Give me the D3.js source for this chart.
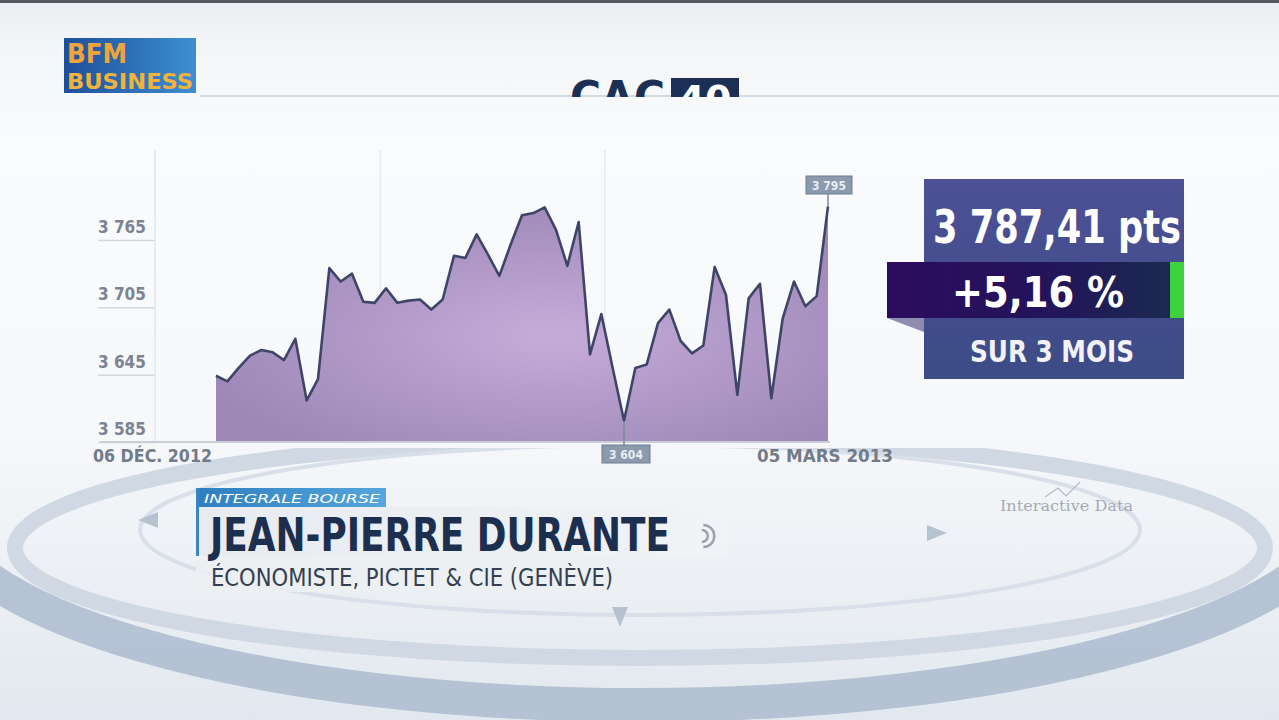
<!DOCTYPE html>
<html>
<head>
<meta charset="utf-8">
<script src="https://cdn.jsdelivr.net/npm/d3@7"></script>
<style>
html, body { margin: 0; padding: 0; overflow: hidden; background: #f4f6f9; }
svg { display: block; }
</style>
</head>
<body>
<script>
// CAC 40, one value per session from 06 Dec 2012 to 05 Mar 2013
const values = [3644, 3639, 3651, 3662, 3667, 3665, 3658, 3677, 3622, 3641,
    3740, 3728, 3735, 3710, 3709, 3722, 3709, 3711, 3712, 3703,
    3712, 3751, 3749, 3770, 3752, 3733, 3761, 3787, 3789, 3794,
    3774, 3742, 3781, 3663, 3699, 3651, 3604, 3651, 3654, 3691,
    3703, 3675, 3664, 3671, 3741, 3716, 3627, 3713, 3726, 3624,
    3695, 3728, 3706, 3715, 3795]
const yTicks = [3585, 3645, 3705, 3765]
const dateLabels = ["06 DÉC. 2012", "05 MARS 2013"]
const monthBreaks = [14.5, 34.3] // 1 Jan, 1 Feb (session index)
const lastPrice = "3 787,41 pts"
const change = "+5,16 %"
const period = "SUR 3 MOIS"
const tag = "INTEGRALE BOURSE"
const guest = "JEAN-PIERRE DURANTE"
const guestRole = "ÉCONOMISTE, PICTET & CIE (GENÈVE)"

const width = 1279
const height = 720
const narrow = "'Liberation Sans Narrow', 'DejaVu Sans Condensed', 'Roboto', sans-serif"

const fr = d3.formatLocale({ decimal: ",", thousands: " ", grouping: [3], currency: ["", " €"] })
const fmt = fr.format(",.0f")

const svg = d3.select("body").append("svg")
    .attr("width", width)
    .attr("height", height)
    .attr("viewBox", [0, 0, width, height])

const defs = svg.append("defs")

function linGrad(id, stops, x2 = 0, y2 = 1) {
    const g = defs.append("linearGradient").attr("id", id)
        .attr("x1", 0).attr("y1", 0).attr("x2", x2).attr("y2", y2)
    stops.forEach(s => g.append("stop").attr("offset", s[0]).attr("stop-color", s[1]))
}
linGrad("bg", [[0, "#e9ecf0"], [0.06, "#f3f5f7"], [0.2, "#fafbfc"], [0.6, "#f6f8fa"], [1, "#e2e8ef"]])
linGrad("bfm", [[0, "#1d4f9a"], [1, "#3d8fd3"]], 1, 0)
linGrad("panel", [[0, "#4d5096"], [1, "#3c4c86"]])
linGrad("band", [[0, "#2c0b5e"], [0.6, "#22155a"], [1, "#1b2a50"]], 1, 0)
linGrad("tagG", [[0, "#2f7fc0"], [1, "#55a6dc"]], 1, 0)
linGrad("lower", [[0, "#e7ebef"], [1, "#f1f3f6"]], 1, 0)

const areaGrad = defs.append("radialGradient").attr("id", "areaG")
    .attr("cx", "0.55").attr("cy", "0.55").attr("r", "0.6")
areaGrad.append("stop").attr("offset", 0).attr("stop-color", "#c6acd9")
areaGrad.append("stop").attr("offset", 1).attr("stop-color", "#9d88b7")

defs.append("clipPath").attr("id", "titleClip")
    .append("rect").attr("x", 0).attr("y", 0).attr("width", width).attr("height", 97)
defs.append("clipPath").attr("id", "ringClip")
    .append("rect").attr("x", 0).attr("y", 448).attr("width", width).attr("height", height - 448)

/*==========  background  ==========*/
svg.append("rect").attr("width", width).attr("height", height).attr("fill", "url(#bg)")
svg.append("rect").attr("width", width).attr("height", 3).attr("fill", "#55585e")

const rings = svg.append("g").attr("fill", "none").attr("clip-path", "url(#ringClip)")
rings.append("ellipse").attr("cx", 640).attr("cy", 500).attr("rx", 705).attr("ry", 205)
    .attr("stroke", "#a9b8cd").attr("stroke-width", 34).attr("opacity", 0.8)
rings.append("ellipse").attr("cx", 640).attr("cy", 548).attr("rx", 625).attr("ry", 110)
    .attr("stroke", "#d0d8e3").attr("stroke-width", 16)
rings.append("ellipse").attr("cx", 640).attr("cy", 530).attr("rx", 500).attr("ry", 85)
    .attr("stroke", "#d8dfe9").attr("stroke-width", 4)
// little arrow marks on the inner ring
svg.append("g").selectAll("path")
    .data([[150, 520, 0], [935, 533, 180], [620, 615, -90]])
    .join("path")
    .attr("d", "M-12,0 L8,-8 L8,8 Z")
    .attr("transform", d => `translate(${d[0]},${d[1]}) rotate(${d[2]})`)
    .attr("fill", "#b7c2d0")

svg.append("line").attr("x1", 200).attr("x2", width).attr("y1", 96).attr("y2", 96)
    .attr("stroke", "#d3d9e0").attr("stroke-width", 2)

/*==========  BFM logo + title  ==========*/
const logo = svg.append("g").attr("transform", "translate(64,38)")
logo.append("rect").attr("width", 132).attr("height", 55).attr("fill", "url(#bfm)")
logo.append("text").attr("x", 3).attr("y", 25).text("BFM")
    .attr("font-family", narrow).attr("font-weight", "bold").attr("font-size", 26)
    .attr("fill", "#f0a43a").attr("textLength", 60).attr("lengthAdjust", "spacingAndGlyphs")
logo.append("text").attr("x", 3).attr("y", 51).text("BUSINESS")
    .attr("font-family", narrow).attr("font-weight", "bold").attr("font-size", 22)
    .attr("fill", "#f2b23e").attr("textLength", 126).attr("lengthAdjust", "spacingAndGlyphs")

const title = svg.append("g").attr("clip-path", "url(#titleClip)")
title.append("text").attr("x", 570).attr("y", 113).text("CAC")
    .attr("font-family", "'DejaVu Sans', sans-serif").attr("font-weight", "bold").attr("font-size", 44)
    .attr("fill", "#1c2f55").attr("textLength", 95).attr("lengthAdjust", "spacingAndGlyphs")
title.append("rect").attr("x", 671).attr("y", 78).attr("width", 68).attr("height", 40).attr("fill", "#1c2f55")
title.append("text").attr("x", 705).attr("y", 112).text("40").attr("text-anchor", "middle")
    .attr("font-family", "'DejaVu Sans', sans-serif").attr("font-weight", "bold").attr("font-size", 38)
    .attr("fill", "#ffffff")

/*==========  chart  ==========*/
const x = d3.scaleLinear().domain([0, values.length - 1]).range([216, 828])
const y = d3.scaleLinear().domain([yTicks[0], yTicks[yTicks.length - 1]]).range([442, 240])

const chart = svg.append("g")

// faint vertical separators (axis + month breaks)
chart.append("line").attr("x1", 155).attr("x2", 155).attr("y1", 150).attr("y2", y(yTicks[0]))
    .attr("stroke", "#e2e6eb").attr("stroke-width", 1.5)
chart.selectAll("line.month")
    .data(monthBreaks)
    .join("line")
    .attr("x1", d => x(d)).attr("x2", d => x(d))
    .attr("y1", 150).attr("y2", y(yTicks[0]))
    .attr("stroke", "#e6e9ee").attr("stroke-width", 1.5)

// y ticks: label sitting on a short underline
const yAxis = d3.axisLeft(y).tickValues(yTicks).tickSize(57).tickFormat(fmt)
chart.append("g")
    .attr("transform", "translate(155,0)")
    .call(yAxis)
    .call(g => g.select(".domain").remove())
    .call(g => g.selectAll(".tick line").attr("stroke", "#d3d8df").attr("stroke-width", 1.5))
    .call(g => g.selectAll(".tick text")
        .attr("x", -57).attr("dy", "-0.45em")
        .attr("text-anchor", "start")
        .attr("font-family", narrow).attr("font-weight", "bold").attr("font-size", 17)
        .attr("fill", "#7c8392"))

chart.append("path")
    .datum(values)
    .attr("fill", "url(#areaG)")
    .attr("d", d3.area().x((d, i) => x(i)).y0(y(yTicks[0])).y1(d => y(d)))

chart.append("line").attr("x1", 100).attr("x2", 830)
    .attr("y1", y(yTicks[0])).attr("y2", y(yTicks[0]))
    .attr("stroke", "#c9ced6").attr("stroke-width", 2)

chart.append("path")
    .datum(values)
    .attr("fill", "none")
    .attr("stroke", "#3e4568")
    .attr("stroke-width", 2.6)
    .attr("stroke-linejoin", "round")
    .attr("d", d3.line().x((d, i) => x(i)).y(d => y(d)))

// first / last date
chart.selectAll("text.date")
    .data(dateLabels)
    .join("text")
    .attr("x", (d, i) => i === 0 ? 93 : 757)
    .attr("y", 462)
    .attr("font-family", narrow).attr("font-weight", "bold").attr("font-size", 17)
    .attr("fill", "#737b89")
    .attr("textLength", (d, i) => i === 0 ? 119 : 136)
    .attr("lengthAdjust", "spacingAndGlyphs")
    .text(d => d)

// max / min flags
const iMax = d3.maxIndex(values)
const iMin = d3.minIndex(values)
const flags = [
    { i: iMax, v: values[iMax], bx: 806, by: 176, w: 46 },
    { i: iMin, v: values[iMin], bx: 602, by: 445, w: 48 }
]
const flag = chart.selectAll("g.flag").data(flags).join("g")
flag.append("line")
    .attr("x1", d => x(d.i)).attr("x2", d => x(d.i))
    .attr("y1", d => d.by < 300 ? d.by + 18 : d.by)
    .attr("y2", d => y(d.v))
    .attr("stroke", "#7d8a9c").attr("stroke-width", 1.5)
flag.append("rect")
    .attr("x", d => d.bx).attr("y", d => d.by).attr("width", d => d.w).attr("height", 18)
    .attr("fill", "#8c9aad").attr("stroke", "#6f7c8f")
flag.append("text")
    .attr("x", d => d.bx + d.w / 2).attr("y", d => d.by + 13.5)
    .attr("text-anchor", "middle")
    .attr("font-family", narrow).attr("font-weight", "bold").attr("font-size", 12)
    .attr("fill", "#e8edf3")
    .text(d => fmt(d.v))

/*==========  price panel  ==========*/
const panel = svg.append("g")
panel.append("rect").attr("x", 924).attr("y", 179).attr("width", 260).attr("height", 200)
    .attr("fill", "url(#panel)")
panel.append("path").attr("d", "M887,318 L924,318 L924,332 Z").attr("fill", "#8f8cb2")
panel.append("rect").attr("x", 887).attr("y", 262).attr("width", 283).attr("height", 56)
    .attr("fill", "url(#band)")
panel.append("rect").attr("x", 1170).attr("y", 262).attr("width", 14).attr("height", 56)
    .attr("fill", "#3fd23f")
panel.append("text").attr("x", 1057).attr("y", 243).attr("text-anchor", "middle")
    .attr("font-family", narrow).attr("font-weight", "bold").attr("font-size", 46)
    .attr("fill", "#ffffff").attr("textLength", 248).attr("lengthAdjust", "spacingAndGlyphs")
    .text(lastPrice)
panel.append("text").attr("x", 1038).attr("y", 307).attr("text-anchor", "middle")
    .attr("font-family", narrow).attr("font-weight", "bold").attr("font-size", 42)
    .attr("fill", "#ffffff").attr("textLength", 172).attr("lengthAdjust", "spacingAndGlyphs")
    .text(change)
panel.append("text").attr("x", 1052).attr("y", 362).attr("text-anchor", "middle")
    .attr("font-family", narrow).attr("font-weight", "bold").attr("font-size", 31)
    .attr("fill", "#f2f2f8").attr("textLength", 164).attr("lengthAdjust", "spacingAndGlyphs")
    .text(period)

/*==========  lower third  ==========*/
const lt = svg.append("g")
lt.append("rect").attr("x", 196).attr("y", 507).attr("width", 531).attr("height", 49)
    .attr("fill", "url(#lower)").attr("opacity", 0.95)
lt.append("rect").attr("x", 196).attr("y", 556).attr("width", 424).attr("height", 36)
    .attr("fill", "#eceff3").attr("opacity", 0.9)
lt.append("rect").attr("x", 196).attr("y", 488).attr("width", 190).attr("height", 19)
    .attr("fill", "url(#tagG)")
lt.append("rect").attr("x", 196).attr("y", 488).attr("width", 3).attr("height", 68)
    .attr("fill", "#3a86c4")
lt.append("text").attr("x", 204).attr("y", 503).text(tag)
    .attr("font-family", "'DejaVu Sans', sans-serif").attr("font-style", "italic").attr("font-size", 13)
    .attr("fill", "#ffffff").attr("textLength", 176).attr("lengthAdjust", "spacingAndGlyphs")
lt.append("text").attr("x", 210).attr("y", 551).text(guest)
    .attr("font-family", "'DejaVu Sans', sans-serif").attr("font-weight", "bold").attr("font-size", 46)
    .attr("fill", "#1d2f4f").attr("textLength", 460).attr("lengthAdjust", "spacingAndGlyphs")
lt.append("text").attr("x", 211).attr("y", 586).text(guestRole)
    .attr("font-family", "'DejaVu Sans', sans-serif").attr("font-size", 24)
    .attr("fill", "#34404f").attr("textLength", 402).attr("lengthAdjust", "spacingAndGlyphs")
// speaker icon
lt.selectAll("path.wave").data([6, 11]).join("path")
    .attr("d", r => `M${700 + r * 0.3},${536 - r} A${r},${r} 0 0 1 ${700 + r * 0.3},${536 + r}`)
    .attr("fill", "none").attr("stroke", "#9aa3ae").attr("stroke-width", 2.5)

svg.append("text").attr("x", 1000).attr("y", 511).text("Interactive Data")
    .attr("font-family", "'DejaVu Serif', serif").attr("font-size", 15)
    .attr("fill", "#a4abb5").attr("textLength", 133).attr("lengthAdjust", "spacingAndGlyphs")
svg.append("path").attr("d", "M1045,497 L1058,488 L1066,496 L1080,482")
    .attr("fill", "none").attr("stroke", "#b4bac3").attr("stroke-width", 1.2)
</script>
</body>
</html>
